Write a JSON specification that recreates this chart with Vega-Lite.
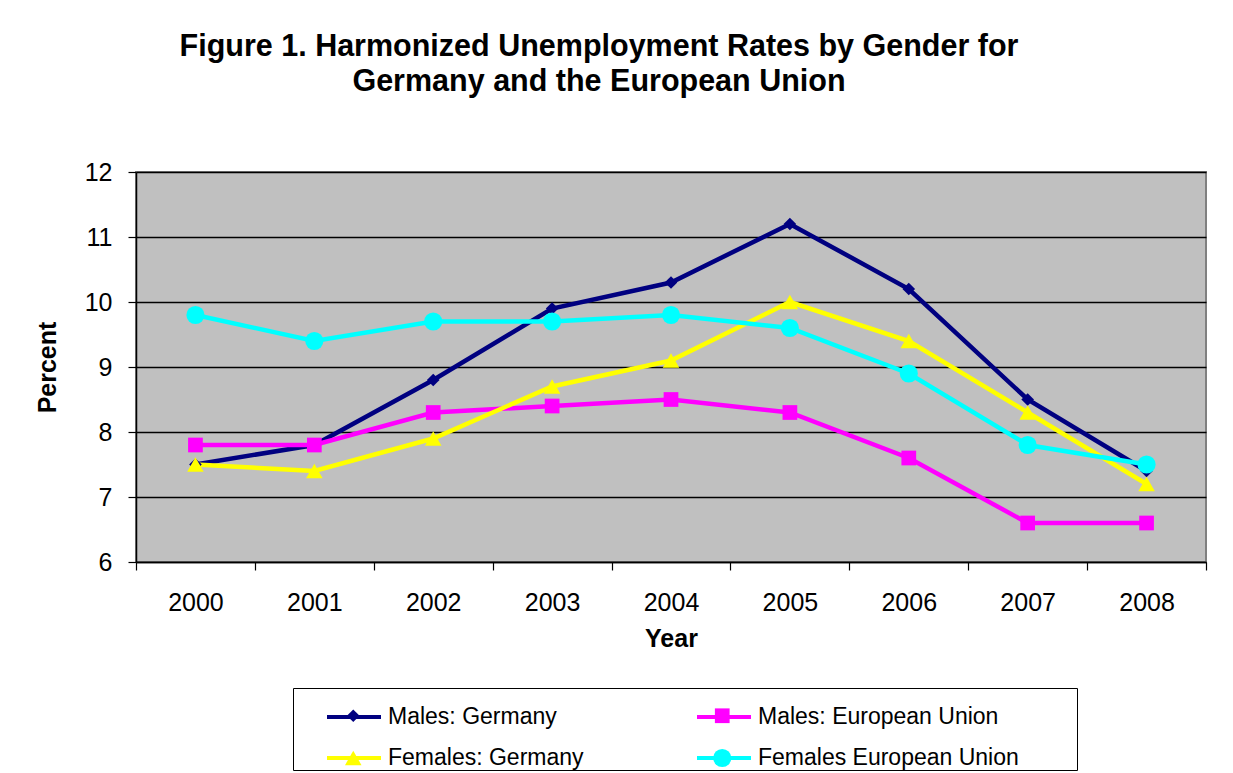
{
  "$schema": "https://vega.github.io/schema/vega-lite/v6.json",
  "width": 1070,
  "height": 390,
  "autosize": {"type": "none"},
  "padding": {"left": 136, "top": 172, "right": 27, "bottom": 211},
  "background": "white",
  "title": {
    "text": ["Figure 1. Harmonized Unemployment Rates by Gender for", "Germany and the European Union"],
    "font": "Liberation Sans",
    "fontSize": 30.5,
    "fontWeight": "bold",
    "color": "black",
    "lineHeight": 35,
    "anchor": "middle",
    "dx": -72,
    "offset": 63
  },
  "config": {
    "font": "Liberation Sans",
    "view": {"fill": "#C0C0C0", "stroke": "#808080", "strokeWidth": 2},
    "axis": {"labelColor": "black", "titleColor": "black", "domainColor": "black", "tickColor": "black", "labelFont": "Liberation Sans", "titleFont": "Liberation Sans"}
  },
  "data": {
    "values": [
      {"year": "2000", "series": "Males: Germany", "value": 7.5},
      {"year": "2001", "series": "Males: Germany", "value": 7.8},
      {"year": "2002", "series": "Males: Germany", "value": 8.8},
      {"year": "2003", "series": "Males: Germany", "value": 9.9},
      {"year": "2004", "series": "Males: Germany", "value": 10.3},
      {"year": "2005", "series": "Males: Germany", "value": 11.2},
      {"year": "2006", "series": "Males: Germany", "value": 10.2},
      {"year": "2007", "series": "Males: Germany", "value": 8.5},
      {"year": "2008", "series": "Males: Germany", "value": 7.4},
      {"year": "2000", "series": "Males: European Union", "value": 7.8},
      {"year": "2001", "series": "Males: European Union", "value": 7.8},
      {"year": "2002", "series": "Males: European Union", "value": 8.3},
      {"year": "2003", "series": "Males: European Union", "value": 8.4},
      {"year": "2004", "series": "Males: European Union", "value": 8.5},
      {"year": "2005", "series": "Males: European Union", "value": 8.3},
      {"year": "2006", "series": "Males: European Union", "value": 7.6},
      {"year": "2007", "series": "Males: European Union", "value": 6.6},
      {"year": "2008", "series": "Males: European Union", "value": 6.6},
      {"year": "2000", "series": "Females: Germany", "value": 7.5},
      {"year": "2001", "series": "Females: Germany", "value": 7.4},
      {"year": "2002", "series": "Females: Germany", "value": 7.9},
      {"year": "2003", "series": "Females: Germany", "value": 8.7},
      {"year": "2004", "series": "Females: Germany", "value": 9.1},
      {"year": "2005", "series": "Females: Germany", "value": 10.0},
      {"year": "2006", "series": "Females: Germany", "value": 9.4},
      {"year": "2007", "series": "Females: Germany", "value": 8.3},
      {"year": "2008", "series": "Females: Germany", "value": 7.2},
      {"year": "2000", "series": "Females European Union", "value": 9.8},
      {"year": "2001", "series": "Females European Union", "value": 9.4},
      {"year": "2002", "series": "Females European Union", "value": 9.7},
      {"year": "2003", "series": "Females European Union", "value": 9.7},
      {"year": "2004", "series": "Females European Union", "value": 9.8},
      {"year": "2005", "series": "Females European Union", "value": 9.6},
      {"year": "2006", "series": "Females European Union", "value": 8.9},
      {"year": "2007", "series": "Females European Union", "value": 7.8},
      {"year": "2008", "series": "Females European Union", "value": 7.5}
    ]
  },
  "encoding": {
    "x": {
      "field": "year",
      "type": "ordinal",
      "scale": {"type": "band", "paddingInner": 0, "paddingOuter": 0},
      "axis": {
        "title": "Year",
        "labelAngle": 0,
        "labelFontSize": 25,
        "tickSize": 8,
        "tickBand": "extent",
        "labelPadding": 20,
        "titleFontSize": 25,
        "titleFontWeight": "bold",
        "titlePadding": 11,
        "domainWidth": 1.5,
        "tickWidth": 1.2,
        "grid": false
      }
    },
    "y": {
      "field": "value",
      "type": "quantitative",
      "scale": {"domain": [6, 12], "nice": false, "zero": false},
      "axis": {
        "title": "Percent",
        "values": [6, 7, 8, 9, 10, 11, 12],
        "labelFontSize": 25,
        "tickSize": 8,
        "labelPadding": 16,
        "titleFontSize": 25,
        "titleFontWeight": "bold",
        "titlePadding": 24,
        "grid": true,
        "gridColor": "black",
        "gridWidth": 1.3,
        "domainWidth": 1.5,
        "tickWidth": 1.2
      }
    }
  },
  "layer": [
    {
      "mark": {"type": "line", "strokeWidth": 4.5},
      "encoding": {
        "color": {
          "field": "series",
          "type": "nominal",
          "sort": ["Males: Germany", "Males: European Union", "Females: Germany", "Females European Union"],
          "scale": {"range": ["#000080", "#FF00FF", "#FFFF00", "#00FFFF"]},
          "legend": {
            "orient": "none", "legendX": 157, "legendY": 516, "direction": "horizontal", "columns": 2,
            "title": "\u00a0", "titleOrient": "right", "titleFontSize": 1, "titlePadding": 58,
            "labelFontSize": 23, "labelFont": "Liberation Sans", "labelColor": "black", "labelLimit": 400,
            "symbolType": "stroke", "symbolSize": 2916, "symbolStrokeWidth": 4,
            "symbolOffset": 32, "labelOffset": 5,
            "columnPadding": 79, "rowPadding": -13, "padding": 0,
            "strokeColor": "black"
          }
        }
      }
    },
    {
      "mark": {"type": "point", "filled": true, "opacity": 1},
      "encoding": {
        "fill": {
          "field": "series",
          "type": "nominal",
          "scale": {
            "domain": ["Males: Germany", "Males: European Union", "Females: Germany", "Females European Union"],
            "range": ["#000080", "#FF00FF", "#FFFF00", "#00FFFF"]
          },
          "legend": {
            "orient": "none", "legendX": 157, "legendY": 532, "direction": "horizontal", "columns": 2,
            "title": null,
            "labelFontSize": 23, "labelFont": "Liberation Sans", "labelOpacity": 0, "labelLimit": 400,
            "symbolOffset": 48.75, "labelOffset": 21.75,
            "columnPadding": 79, "rowPadding": 17.5, "padding": 0
          }
        },
        "shape": {
          "field": "series",
          "type": "nominal",
          "scale": {
            "domain": ["Males: Germany", "Males: European Union", "Females: Germany", "Females European Union"],
            "range": ["diamond", "square", "triangle-up", "circle"]
          },
          "legend": {
            "orient": "none", "legendX": 157, "legendY": 532, "direction": "horizontal", "columns": 2,
            "title": null,
            "labelFontSize": 23, "labelFont": "Liberation Sans", "labelOpacity": 0, "labelLimit": 400,
            "symbolOffset": 48.75, "labelOffset": 21.75,
            "columnPadding": 79, "rowPadding": 17.5, "padding": 0
          }
        },
        "size": {
          "field": "series",
          "type": "nominal",
          "scale": {
            "domain": ["Males: Germany", "Males: European Union", "Females: Germany", "Females European Union"],
            "range": [160, 330, 300, 420]
          },
          "legend": {
            "orient": "none", "legendX": 157, "legendY": 532, "direction": "horizontal", "columns": 2,
            "title": null,
            "labelFontSize": 23, "labelFont": "Liberation Sans", "labelOpacity": 0, "labelLimit": 400,
            "symbolOffset": 48.75, "labelOffset": 21.75,
            "columnPadding": 79, "rowPadding": 17.5, "padding": 0
          }
        }
      }
    }
  ]
}
